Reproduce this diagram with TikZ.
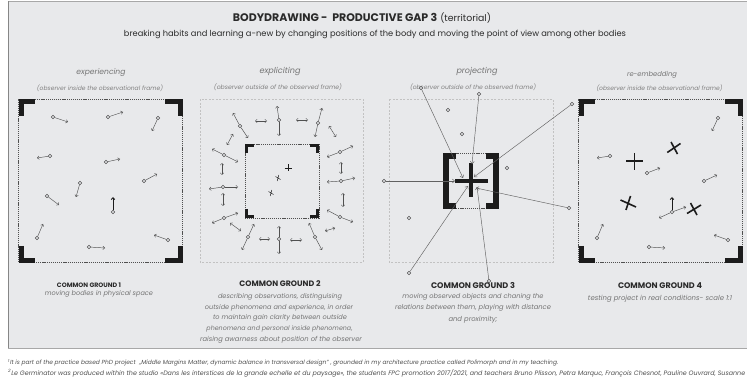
\documentclass[tikz,border=0pt]{standalone}
\usepackage{fontspec}
\setmainfont{Poppins}
\usetikzlibrary{arrows.meta}
\definecolor{bg}{HTML}{E8E9EB}
\definecolor{ink}{HTML}{2A2A2A}
\definecolor{mid}{HTML}{505050}
\definecolor{soft}{HTML}{747474}
\definecolor{pale}{HTML}{C2C2C2}
\definecolor{blk}{HTML}{1C1C1C}
\definecolor{rim}{HTML}{A8A8A8}
\newcommand\fitw[2]{\resizebox{#1pt}{!}{#2}}
\newcommand\pwalk[3]{\node[dot] (#1) at (#2) {}; \coordinate (#1e) at (#3); \draw[arr] (#1) -- (#1e);}
\newcommand\pthru[4]{\node[dot] (#1) at (#2) {}; \coordinate (#1a) at (#3); \coordinate (#1b) at (#4); \draw[arr] (#1) -- (#1a); \draw[arr] (#1) -- (#1b);}
\newcommand\ptwo[3]{\coordinate (#1a) at (#2); \coordinate (#1b) at (#3); \draw[darr] (#1a) -- (#1b);}
\newcommand\pray[3]{\node[dot] (#1) at (#2) {}; \coordinate (#1e) at (#3); \draw[ray] (#1) -- (#1e);}
\begin{document}
\begin{tikzpicture}[x=1pt,y=-1pt,
  dot/.style={circle,draw=mid,line width=0.45pt,minimum size=3.6pt,inner sep=0pt,fill=bg},
  arr/.style={draw=mid,line width=0.45pt,-{Straight Barb[length=1.8pt,width=3.4pt]}},
  darr/.style={draw=mid,line width=0.45pt,{Straight Barb[length=1.8pt,width=3.4pt]}-{Straight Barb[length=1.8pt,width=3.4pt]}},
  ray/.style={draw=mid!90,line width=0.45pt,-{Straight Barb[length=2.4pt,width=4pt]}},
  bold/.style={draw=blk,line width=0.9pt,-{Straight Barb[length=2pt,width=3.6pt]}},
  corner/.style={draw=blk,line width=5pt,line cap=butt,line join=miter},
  smallcorner/.style={draw=blk,line width=3.2pt,line cap=butt,line join=miter},
  frame/.style={draw=mid,line width=0.45pt,dash pattern=on 1.2pt off 0.9pt},
  outer/.style={draw=pale,line width=0.5pt,dash pattern=on 2pt off 1.5pt},
  xmark/.style={draw=blk,line width=1.6pt},
  thin/.style={draw=blk,line width=0.6pt},
  title/.style={text=ink,inner sep=0pt,font=\fontsize{9.4}{11}\selectfont},
  sub/.style={text=ink,inner sep=0pt,font=\fontsize{8}{9}\selectfont},
  lab/.style={text=soft,inner sep=0pt,font=\itshape\fontsize{7.6}{9}\selectfont},
  obs/.style={text=soft!90,inner sep=0pt,font=\itshape\fontsize{6}{7}\selectfont},
  cg/.style={text=ink,inner sep=0pt,font=\bfseries\fontsize{7.6}{9}\selectfont},
  desc/.style={text=soft,inner sep=0pt,font=\itshape\fontsize{6.6}{8}\selectfont},
  foot/.style={text=mid,font=\itshape\fontsize{5.5}{6}\selectfont,anchor=west,inner sep=0pt}]
\useasboundingbox (0,0) rectangle (747,382);
% panel
\fill[white] (0,0) rectangle (747,382);
\fill[bg] (8,1.5) rectangle (750,348);
\draw[rim,line width=1.5pt] (8,1.5) -- (750,1.5);
\draw[rim!80!black,line width=0.9pt] (8,1.5) -- (8,348);
\draw[rim,line width=0.6pt] (8,348) -- (750,348);
% titles
\node[title] (ttl) at (362,18) {\fitw{258}{\textbf{BODYDRAWING -\ \ PRODUCTIVE GAP 3} {\fontsize{8}{10}\selectfont(territorial)}}};
\node[sub] (stl) at (375,34) {\fitw{502}{breaking habits and learning a-new by changing positions of the body and moving the point of view among other bodies}};
% labels
\node[lab] (l1) at (101,73) {\fitw{49}{experiencing}};
\node[obs] (o1) at (100,88) {\fitw{126}{(observer inside the observational frame)}};
\node[lab] (l2) at (280,72) {\fitw{41}{expliciting}};
\node[obs] (o2) at (278,87) {\fitw{128}{(observer outside of the observed frame)}};
\node[lab] (l3) at (477,72) {\fitw{41}{projecting}};
\node[obs] (o3) at (473,87) {\fitw{126}{(observer outside of the observed frame)}};
\node[lab] (l4) at (652,75) {\fitw{50}{re-embedding}};
\node[obs] (o4) at (659.5,88) {\fitw{126}{(observer inside the observational frame)}};
% ---------- panel 1
\draw[frame] (18.5,99.5) rectangle (182.5,262.5);
\draw[corner] (21,116) -- (21,102) -- (35,102);
\draw[corner] (165,102) -- (180,102) -- (180,116);
\draw[corner] (21,246) -- (21,260) -- (35,260);
\draw[corner] (165,260) -- (180,260) -- (180,246);
\pwalk{a1}{53,117}{68,122}
\pwalk{a2}{108,117}{123,112}
\pwalk{a3}{158,118}{152,131}
\pwalk{a4}{50,156}{37,158}
\pwalk{a5}{106,162}{120,159}
\pwalk{a6}{144,181}{157,174}
\pwalk{a7}{80,183}{76,197}
\pwalk{a8}{47,196}{59,205}
\node[dot] (a9) at (113,212) {}; \coordinate (a9e) at (113,197); \draw[bold] (a9) -- (a9e);
\pwalk{a10}{37,238}{43,224}
\pwalk{a11}{89,247}{105,248}
\pwalk{a12}{168,240}{154,235}
% ---------- panel 2
\draw[outer] (200,99.5) rectangle (363,262);
\draw[frame] (245,144) rectangle (319,218);
\draw[smallcorner] (246.6,153) -- (246.6,145.6) -- (254,145.6);
\draw[smallcorner] (310,145.6) -- (317.4,145.6) -- (317.4,153);
\draw[smallcorner] (246.6,209) -- (246.6,216.4) -- (254,216.4);
\draw[smallcorner] (310,216.4) -- (317.4,216.4) -- (317.4,209);
\pthru{b1}{240,126}{233,113}{248,138}
\ptwo{b2}{255,121}{267,121}
\pthru{b3}{279,120}{277,106}{279,136}
\ptwo{b4}{296,120}{308,120}
\pthru{b5}{318,123}{322,108}{315,137}
\ptwo{b6}{329,126}{336,137}
\ptwo{b7}{227,145}{233,134}
\pthru{b8}{224,155}{212,149}{238,162}
\ptwo{b9}{222,163}{222,175}
\pthru{b10}{223,187}{209,189}{238,187}
\ptwo{b11}{223,193}{223,206}
\pthru{b12}{224,218}{212,223}{238,213}
\ptwo{b13}{230,223}{241,231}
\pthru{b14}{248,237}{254,224}{242,250}
\ptwo{b15}{259,239}{270,239}
\pthru{b16}{279,239}{279,226}{279,254}
\ptwo{b17}{290,240}{302,240}
\pthru{b18}{315,237}{309,223}{322,250}
\ptwo{b19}{325,231}{335,228}
\pthru{b20}{340,152}{327,157}{353,146}
\ptwo{b21}{341,162}{341,174}
\pthru{b22}{341,181}{327,182}{355,178}
\ptwo{b23}{343,193}{343,207}
\pthru{b24}{340,217}{327,210}{353,222}
\draw[thin] (284.5,168) -- (291.5,168) (288,164.5) -- (288,171.5);
\draw[thin,line width=0.5pt] (275.5,176.5) -- (280.5,179.5) (278.8,175) -- (277.2,181);
\draw[thin,line width=0.5pt] (268.5,191.5) -- (273.5,194.5) (271.8,190) -- (270.2,196);
% ---------- panel 3
\draw[outer] (389,99.5) rectangle (553,262);
\draw[frame] (446,153.5) rectangle (496,208.5);
\draw[corner,line width=6pt] (456,156) -- (446,156) -- (446,206) -- (456,206);
\draw[corner,line width=6pt] (486,156) -- (496,156) -- (496,206) -- (486,206);
\draw[draw=blk,line width=4.5pt] (455,181) -- (488,181) (471,163) -- (471,197);
\pray{p1}{421,88}{463,178}
\pray{p2}{479,94}{472,164}
\pray{p3}{572,104}{474,177}
\pray{p4}{384,181}{455,181}
\pray{p5}{569,208}{476,188}
\pray{p6}{409,273}{468,186}
\pray{p7}{489,281}{477,187}
\node[dot] (q1) at (448,110) {};
\node[dot] (q2) at (462,134) {};
\node[dot] (q3) at (507,168) {};
\node[dot] (q4) at (409,218) {};
% ---------- panel 4
\draw[frame] (578.5,99.5) rectangle (742.5,262.5);
\draw[corner] (581,116) -- (581,102) -- (595,102);
\draw[corner] (725,102) -- (740,102) -- (740,116);
\draw[corner] (581,246) -- (581,260) -- (595,260);
\draw[corner] (725,260) -- (740,260) -- (740,246);
\pwalk{c1}{718,118}{712,131}
\pwalk{c2}{610,156}{597,158}
\pwalk{c3}{647,173}{660,168}
\pwalk{c4}{704,181}{717,175}
\node[dot] (c5) at (672,212) {}; \coordinate (c5e) at (672,197); \draw[bold] (c5) -- (c5e);
\coordinate (c5r) at (686,207); \draw[arr] (c5) -- (c5r);
\coordinate (c5l) at (659,218); \draw[arr] (c5) -- (c5l);
\pwalk{c6}{597,238}{603,224}
\pwalk{c7}{649,247}{665,248}
\pwalk{c8}{728,240}{714,235}
\draw[xmark] (626,161) -- (643,161) (634.5,153) -- (634.5,170);
\draw[xmark] (667.3,152.5) -- (680.5,143.5) (671,142) -- (677.5,154);
\draw[xmark] (620.5,200) -- (636,207) (630.5,196) -- (626,210);
\draw[xmark] (687,213.5) -- (701,205) (690.5,203) -- (697,215);
% ---------- common grounds
\node[cg] (g1) at (89,285.5) {\fitw{64}{COMMON GROUND 1}};
\node[desc] (d1) at (99,293.5) {\fitw{108}{moving bodies in physical space}};
\node[cg] (g2) at (280,284) {\fitw{81}{COMMON GROUND 2}};
\node[desc] (d2a) at (280,296.5) {\fitw{124}{describing observations, distinguising}};
\node[desc] (d2b) at (279,307.4) {\fitw{148}{outside phenomena and experience, in order}};
\node[desc] (d2c) at (280,318.3) {\fitw{134}{to maintain gain clarity between outside}};
\node[desc] (d2d) at (279.5,329.2) {\fitw{146}{phenomena and personal inside phenomena,}};
\node[desc] (d2e) at (281,340.1) {\fitw{162}{raising awarness about position of the observer}};
\node[cg] (g3) at (473,285.5) {\fitw{84}{COMMON GROUND 3}};
\node[desc] (d3a) at (473,297) {\fitw{141}{moving observed objects and chaning the}};
\node[desc] (d3b) at (473,308.3) {\fitw{156}{relations between them, playing with distance}};
\node[desc] (d3c) at (473,319.6) {\fitw{49}{and proximity;}};
\node[cg] (g4) at (660,285.5) {\fitw{84}{COMMON GROUND 4}};
\node[desc] (d4) at (660,299) {\fitw{144}{testing project in real conditions- scale 1:1}};
% ---------- footnotes
\node[foot] (f1) at (8,363) {\fitw{550}{\textsuperscript{1}It is part of the practice based PhD project\ \ „Middle Margins Matter, dynamic balance in transversal design” , grounded in my architecture practice called Polimorph and in my teaching.}};
\node[foot] (f2) at (8,373) {\fitw{737}{\textsuperscript{2}Le Germinator was produced within the studio «Dans les interstices de la grande echelle et du paysage», the students FPC promotion 2017/2021, and teachers Bruno Plisson, Petra Marquc, François Chesnot, Pauline Ouvrard, Susanne}};
\end{tikzpicture}
\end{document}
